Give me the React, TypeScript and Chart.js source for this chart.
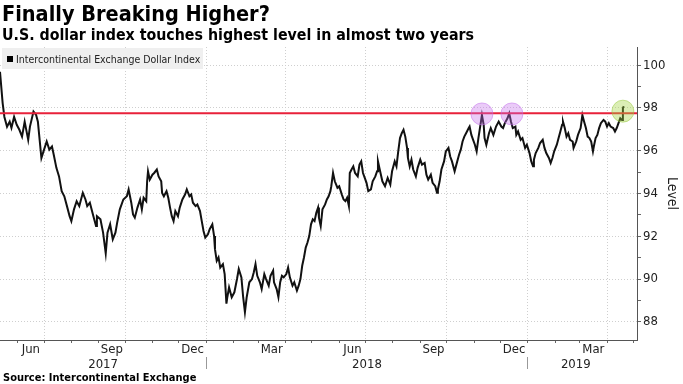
import React, { useEffect, useRef } from 'react';
import { Chart, registerables } from 'chart.js';

Chart.register(...registerables);

// ---- data (day 0 = 2017-05-12) ----
const days = [
  0, 3, 5, 8, 11, 13, 16, 19, 22, 25, 28, 32, 34, 38, 41, 43, 45, 47, 50, 53, 56, 59, 61, 64, 67, 70, 73, 76, 79, 81,
  84, 87, 90, 94, 97, 99, 102, 106, 109, 110, 114, 117, 120, 122, 125, 128, 131, 133, 136, 140, 144,
  146, 149, 151, 153, 156, 159, 161, 163, 166, 167, 168, 170, 173, 175, 178, 180, 183, 184, 186, 189, 191, 193, 195, 197,
  199, 202, 204, 207, 210, 212, 215, 217, 219, 222, 224, 227, 229, 231, 233, 236, 238, 241, 243, 244, 246, 248, 250, 253,
  255, 257, 258, 260, 263, 266, 269, 271, 274, 276, 278, 280, 283, 286,
  288, 290, 292, 295, 297, 300, 302, 305, 307, 310, 311, 314, 316, 318, 320, 322, 325, 327, 329, 332, 334, 337, 339, 341,
  343, 345, 347, 349, 351, 353, 355, 357, 359, 361, 362, 364, 366, 369, 371, 373, 375, 376, 378, 380, 383, 385, 388, 390,
  392, 394, 396, 397, 399, 401, 403, 406, 408, 410, 412, 414, 416, 418, 421, 423, 426, 428, 429,
  431, 434, 437, 440, 443, 445, 448, 450, 452, 454, 456, 458, 460, 462, 463, 465, 467, 469, 472, 474, 477, 479, 482, 484,
  486, 489, 491, 494, 496, 497, 499, 501, 504, 506, 509, 511, 513, 516, 518, 521, 523, 525, 527, 529, 532, 533, 535, 537,
  539, 541, 543, 545, 547, 549, 550, 552, 555, 557, 560, 563, 566, 569, 571,
  573, 576, 578, 580, 582, 585, 586, 588, 591, 593, 596, 598, 601, 603, 605, 606, 608, 611, 613, 616, 618, 620, 623, 625,
  627, 629, 632, 634, 636, 638, 639, 641, 643, 645, 647, 650, 651, 654, 656, 659, 661, 663, 665, 667, 669, 671, 673, 674,
  676, 678, 680, 682, 685, 687, 689, 691, 693, 696, 698, 700, 702, 704, 706, 707, 708,
];

const dollarIndex = [
  99.69, 98.23, 97.58, 97.12, 97.36, 97.07, 97.58, 97.21, 96.98, 96.66, 97.36, 96.51, 97.13, 97.83, 97.67, 97.36, 96.51, 95.66, 96.05, 96.43, 96.05, 96.2, 95.81, 95.2, 94.8, 94.11, 93.87, 93.41, 92.94, 92.71,
  93.26, 93.64, 93.41, 94.03, 93.72, 93.41, 93.57, 92.94, 92.48, 92.94, 92.79, 92.17, 91.2, 92.17, 92.56, 91.86, 92.17, 92.64, 93.26, 93.72, 93.87,
  94.19, 93.57, 93.02, 92.87, 93.34, 93.72, 93.26, 93.8, 93.64, 94.57, 95.04, 94.65, 94.88, 94.96, 95.12, 94.8, 94.57, 94.03, 93.87, 94.11, 93.8, 93.34, 92.94, 92.71,
  93.18, 92.94, 93.34, 93.72, 93.95, 94.19, 93.87, 93.95, 93.57, 93.41, 93.49, 93.18, 92.71, 92.25, 91.94, 92.09, 92.33, 92.56, 92.01, 91.4, 90.85, 91.01, 90.54, 90.7,
  90.23, 88.85, 89.15, 89.61, 89.15, 89.38, 90.0, 90.47, 90.08, 89.15, 88.45, 89.15, 89.85, 90.0,
  90.31, 90.7, 90.15, 89.85, 89.53, 90.23, 90.0, 89.69, 90.15, 90.39, 89.85, 89.53, 89.15, 89.85, 90.15, 90.08, 90.23, 90.54, 90.08, 89.69, 89.85, 89.46, 89.69, 90.0,
  90.62, 91.01, 91.47, 91.71, 92.01, 92.56, 92.79, 92.71, 93.1, 93.34, 92.87, 92.48, 93.26, 93.49, 93.72, 93.87, 94.11, 94.34, 94.96, 94.57, 94.27, 94.34, 93.95, 93.72,
  93.64, 93.8, 93.41, 94.96, 95.12, 95.27, 94.96, 94.8, 95.35, 95.5, 94.96, 94.73, 94.5, 94.11, 94.19, 94.57, 94.8, 95.04, 95.5,
  95.12, 94.57, 94.34, 94.73, 94.42, 95.04, 95.5, 95.27, 95.97, 96.59, 96.82, 96.98, 96.66, 96.13, 95.66, 95.27, 95.58, 95.12, 94.8, 95.2, 95.58, 95.35, 95.43, 94.88,
  94.65, 94.88, 94.5, 94.34, 94.03, 94.19, 94.57, 95.12, 95.5, 95.97, 96.13, 95.73, 95.5, 95.04, 95.35, 95.81, 96.05, 96.43, 96.66, 96.82, 97.06, 97.13, 96.74, 96.51,
  96.28, 95.97, 96.59, 97.13, 97.67, 97.21, 96.59, 96.28, 96.82, 97.06, 96.74, 97.13, 97.36, 97.13, 97.06,
  97.29, 97.52, 97.75, 97.36, 97.06, 97.13, 96.74, 96.9, 96.51, 96.59, 96.13, 96.28, 95.89, 95.5, 95.27, 95.58, 95.89, 96.13, 96.36, 96.51, 96.13, 95.89, 95.66, 95.43,
  95.66, 95.97, 96.28, 96.59, 96.9, 97.21, 97.36, 97.06, 96.66, 96.82, 96.51, 96.43, 96.13, 96.43, 96.74, 97.06, 97.67, 97.36, 97.06, 96.66, 96.59, 96.43, 95.97, 96.2,
  96.59, 96.74, 97.06, 97.29, 97.44, 97.36, 97.13, 97.29, 97.13, 97.06, 96.9, 97.06, 97.29, 97.52, 97.44, 97.99, 98.08,
];

const thresholdLevel = 97.75;
const highlightDays = [547, 581, 707];
const highlightLevels = [97.72, 97.72, 97.85];
const highlightColors = ['rgba(196,110,235,0.36)', 'rgba(196,110,235,0.36)', 'rgba(160,210,60,0.38)'];
const highlightBorders = ['rgba(196,110,235,0.5)', 'rgba(196,110,235,0.5)', 'rgba(150,200,60,0.5)'];

const yTickValues = [88, 89, 90, 91, 92, 93, 94, 95, 96, 97, 98, 99, 100];
const monthTickLabels = ['Jun', 'Sep', 'Dec', 'Mar', 'Jun', 'Sep', 'Dec', 'Mar'];
const monthTickMonths = ['2017-06', '2017-09', '2017-12', '2018-03', '2018-06', '2018-09', '2018-12', '2019-03'];
const yearLabels = ['2017', '2018', '2019'];
const yearSeparatorDates = ['2018-01-01', '2019-01-01'];

const AXIS_MIN_DAY = 0;
const AXIS_MAX_DAY = 723;
const Y_MIN = 87.15;
const Y_MAX = 100.85;

// ---- helpers ----
const DAY_MS = 86400000;
const START_UTC = Date.UTC(2017, 4, 12);
const dayOf = (y: number, m: number, d: number) => Math.round((Date.UTC(y, m, d) - START_UTC) / DAY_MS);
const monthOfDay = (v: number) => new Date(START_UTC + v * DAY_MS).getUTCMonth();
const parseYM = (s: string) => s.split('-').map(Number);

const FONT = "'DejaVu Sans Condensed', 'DejaVu Sans', sans-serif";
const lastDay = days[days.length - 1];

const monthStarts: number[] = [];
for (let y = 2017; y <= 2019; y++) {
  for (let m = 0; m < 12; m++) {
    const d = dayOf(y, m, 1);
    if (d > AXIS_MIN_DAY && d <= AXIS_MAX_DAY) monthStarts.push(d);
  }
}
const monthCenters = monthTickMonths.map((s) => {
  const [y, m] = parseYM(s);
  return (dayOf(y, m - 1, 1) + dayOf(y, m, 1)) / 2;
});
const yearSeparators = yearSeparatorDates.map((s) => {
  const [y, m, d] = parseYM(s);
  return dayOf(y, m - 1, d);
});
const yearCenters = yearLabels.map((s) => {
  const y = Number(s);
  const a = Math.max(AXIS_MIN_DAY, dayOf(y, 0, 1));
  const b = Math.min(lastDay, dayOf(y + 1, 0, 1));
  return (a + b) / 2;
});

export default function App() {
  const canvasRef = useRef<HTMLCanvasElement | null>(null);

  useEffect(() => {
    const canvas = canvasRef.current;
    if (!canvas) return;
    const chart = new Chart(canvas, {
      type: 'line',
      data: {
        datasets: [
          {
            label: 'highlights',
            data: highlightDays.map((d, i) => ({ x: d, y: highlightLevels[i] })),
            showLine: false,
            pointRadius: 11,
            pointBackgroundColor: highlightColors,
            pointBorderColor: highlightBorders,
            pointBorderWidth: 1,
            order: 0,
            xAxisID: 'x',
            yAxisID: 'y',
          },
          {
            label: 'threshold',
            data: [
              { x: AXIS_MIN_DAY, y: thresholdLevel },
              { x: AXIS_MAX_DAY, y: thresholdLevel },
            ],
            borderColor: '#e8213a',
            borderWidth: 2,
            pointRadius: 0,
            order: 1,
            xAxisID: 'x',
            yAxisID: 'y',
          },
          {
            label: 'Intercontinental Exchange Dollar Index',
            data: days.map((d, i) => ({ x: d, y: dollarIndex[i] })),
            borderColor: '#111',
            borderWidth: 2,
            pointRadius: 0,
            tension: 0,
            order: 2,
            xAxisID: 'x',
            yAxisID: 'y',
          },
        ],
      },
      options: {
        responsive: false,
        animation: false,
        events: [],
        layout: { autoPadding: false, padding: { top: 47, bottom: 13, left: 0, right: 0 } },
        plugins: { legend: { display: false }, tooltip: { enabled: false }, title: { display: false } },
        scales: {
          x: {
            type: 'linear',
            position: 'bottom',
            min: AXIS_MIN_DAY,
            max: AXIS_MAX_DAY,
            weight: 0,
            afterBuildTicks: (s: any) => {
              s.ticks = monthStarts.map((v) => ({ value: v }));
            },
            ticks: { display: false, autoSkip: false },
            grid: {
              display: true,
              drawOnChartArea: true,
              color: (ctx: any) =>
                ctx.tick && monthOfDay(ctx.tick.value) % 3 === 0 ? '#cfcfcf' : 'rgba(0,0,0,0)',
              lineWidth: 1,
              drawTicks: true,
              tickLength: 3,
              tickColor: '#666',
              tickWidth: 1,
            },
            border: { display: true, color: '#555', width: 1, dash: [1, 2] },
            afterFit: (s: any) => {
              s.height = 2;
            },
          },
          xm: {
            type: 'linear',
            position: 'bottom',
            min: AXIS_MIN_DAY,
            max: AXIS_MAX_DAY,
            weight: 1,
            afterBuildTicks: (s: any) => {
              s.ticks = monthCenters.map((v) => ({ value: v }));
            },
            ticks: {
              autoSkip: false,
              maxRotation: 0,
              padding: 0,
              color: '#222',
              font: { family: FONT, size: 13 },
              callback: (_v: any, i: number) => monthTickLabels[i],
            },
            grid: { display: false, drawTicks: false, tickLength: 0 },
            border: { display: false },
            afterFit: (s: any) => {
              s.height = 15;
            },
          },
          xy: {
            type: 'linear',
            position: 'bottom',
            min: AXIS_MIN_DAY,
            max: AXIS_MAX_DAY,
            weight: 2,
            afterBuildTicks: (s: any) => {
              s.ticks = [...yearSeparators, ...yearCenters].map((v) => ({ value: v }));
            },
            ticks: {
              autoSkip: false,
              maxRotation: 0,
              padding: -12,
              color: '#222',
              font: { family: FONT, size: 13 },
              callback: (_v: any, i: number) => (i < yearSeparators.length ? '' : yearLabels[i - yearSeparators.length]),
            },
            grid: {
              display: true,
              drawOnChartArea: false,
              drawTicks: true,
              tickLength: 12,
              tickColor: (ctx: any) => (ctx.index < yearSeparators.length ? '#999' : 'rgba(0,0,0,0)'),
            },
            border: { display: false },
            afterFit: (s: any) => {
              s.height = 14;
            },
          },
          y: {
            type: 'linear',
            position: 'right',
            min: Y_MIN,
            max: Y_MAX,
            afterBuildTicks: (s: any) => {
              s.ticks = yTickValues.map((v) => ({ value: v }));
            },
            ticks: {
              autoSkip: false,
              padding: 2,
              color: '#222',
              font: { family: FONT, size: 13 },
              callback: (v: any) => (Number(v) % 2 === 0 ? String(v) : ''),
            },
            grid: {
              color: (ctx: any) => (ctx.tick && ctx.tick.value % 2 === 0 ? '#cfcfcf' : 'rgba(0,0,0,0)'),
              lineWidth: 1,
              drawTicks: true,
              tickLength: 4,
              tickColor: '#666',
            },
            border: { display: true, color: '#555', width: 1, dash: [1, 2] },
            title: {
              display: true,
              text: 'Level',
              color: '#222',
              font: { family: FONT, size: 14 },
              padding: { top: 3, bottom: 0 },
            },
            afterFit: (s: any) => {
              s.width = 46;
            },
          },
        },
      },
    } as any);
    return () => chart.destroy();
  }, []);

  return (
    <div
      style={{
        position: 'absolute',
        left: 0,
        top: 0,
        width: 683,
        height: 384,
        background: '#fff',
        overflow: 'hidden',
        fontFamily: FONT,
      }}
    >
      <canvas
        ref={canvasRef}
        width={683}
        height={384}
        style={{ position: 'absolute', left: 0, top: 0, width: 683, height: 384 }}
      />
      <div
        style={{
          position: 'absolute',
          left: 2,
          top: 3,
          fontSize: 21.5,
          lineHeight: '22px',
          fontWeight: 'bold',
          color: '#000',
          whiteSpace: 'nowrap',
        }}
      >
        Finally Breaking Higher?
      </div>
      <div
        style={{
          position: 'absolute',
          left: 2,
          top: 26,
          fontSize: 15.8,
          lineHeight: '18px',
          fontWeight: 'bold',
          color: '#000',
          whiteSpace: 'nowrap',
        }}
      >
        U.S. dollar index touches highest level in almost two years
      </div>
      <div
        style={{
          position: 'absolute',
          left: 2,
          top: 48,
          width: 201,
          height: 21,
          background: '#efefef',
          display: 'flex',
          alignItems: 'center',
          fontSize: 10.5,
          color: '#222',
          whiteSpace: 'nowrap',
        }}
      >
        <span
          style={{
            display: 'inline-block',
            flex: '0 0 6px',
            width: 6,
            height: 6,
            background: '#000',
            marginLeft: 5,
            marginRight: 3,
          }}
        />
        Intercontinental Exchange Dollar Index
      </div>
      <div
        style={{
          position: 'absolute',
          left: 3,
          top: 371,
          fontSize: 11,
          lineHeight: '13px',
          fontWeight: 'bold',
          color: '#000',
          whiteSpace: 'nowrap',
        }}
      >
        Source: Intercontinental Exchange
      </div>
    </div>
  );
}
